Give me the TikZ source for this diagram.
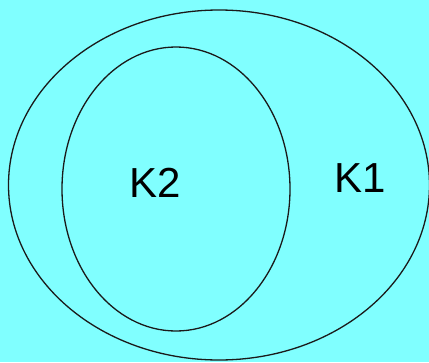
\documentclass[tikz,border=0pt]{standalone}
\usepackage{fontspec}
\setmainfont{Liberation Sans}
\usepackage{xcolor}
\usepackage{tikz}
\usetikzlibrary{positioning,shapes.geometric}
\definecolor{bgc}{HTML}{80FFFF}
\definecolor{linec}{HTML}{1A1A1A}
\tikzset{
  setl/.style={draw=linec,line width=1.3pt,ellipse,inner sep=0pt},
  lab/.style={inner sep=0pt,font=\fontsize{42}{42}\selectfont}
}
\begin{document}
\begin{tikzpicture}[x=1pt,y=-1pt]
\fill[bgc] (0,0) rectangle (429,362);
\useasboundingbox (0,0) rectangle (429,362);
\node[setl,minimum width=421,minimum height=350] (kone) at (219,185) {};
\node[setl,minimum width=228,minimum height=284] (ktwo) at (176,189) {};
\node[lab] (ltwo) at (155,183) {K2};
\node[lab] (lone) at (360,178) {K1};
\end{tikzpicture}
\end{document}
